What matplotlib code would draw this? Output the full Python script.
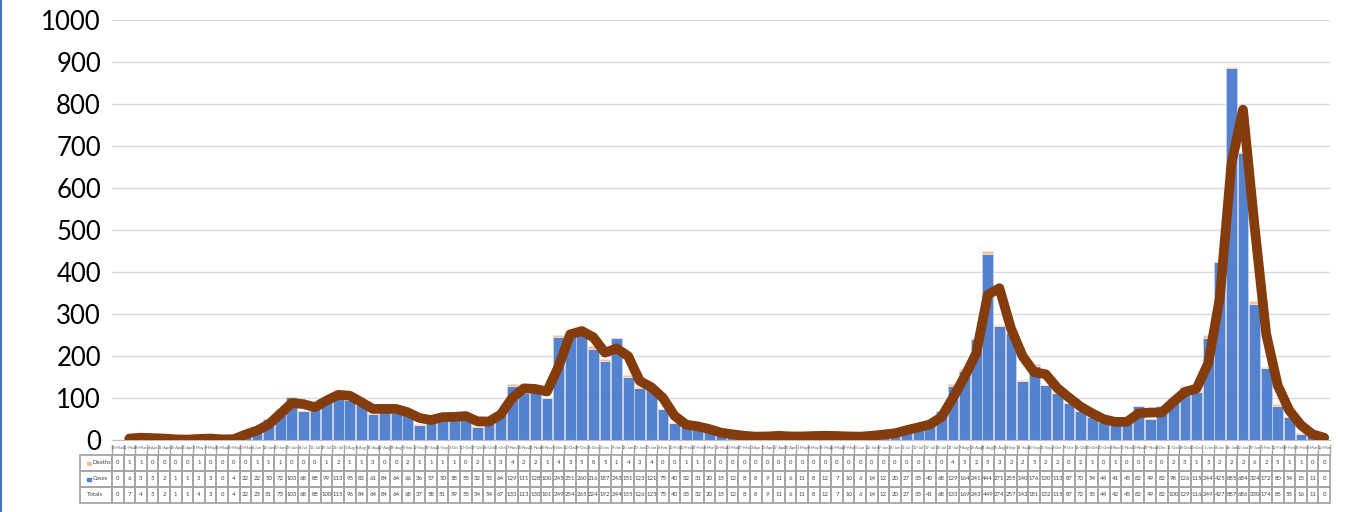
import numpy as np
import pandas as pd
import matplotlib
matplotlib.use("Agg")
import matplotlib.pyplot as plt
from matplotlib.patches import Rectangle
from matplotlib.lines import Line2D

plt.rcParams['font.family'] = ['Lato', 'DejaVu Sans']

# weekly data, Mar 2020 - Mar 2022
weeks = pd.date_range("2020-03-14", periods=105, freq="7D")
week_labels = [f"{d.day}-{d:%b}" for d in weeks]

deaths = [0, 1, 1, 0, 0, 0, 0, 1, 0, 0, 0, 0, 1, 1, 1, 0, 0, 0, 1, 2,
          1, 1, 3, 0, 0, 2, 1, 1, 1, 1, 0, 2, 1, 3, 4, 2, 2, 1, 4, 3,
          5, 8, 5, 1, 4, 3, 4, 0, 0, 1, 1, 0, 0, 0, 0, 0, 0, 0, 0, 0,
          0, 0, 0, 0, 0, 0, 0, 0, 0, 0, 1, 0, 4, 5, 2, 5, 3, 2, 2, 5,
          2, 2, 0, 2, 1, 0, 1, 0, 0, 0, 0, 2, 3, 1, 5, 2, 2, 2, 6, 2,
          5, 1, 1, 0, 0]
cases = [0, 6, 3, 5, 2, 1, 1, 3, 3, 0, 4, 22, 22, 50, 72, 103, 68, 88, 99, 113,
         95, 83, 61, 84, 64, 66, 36, 57, 50, 58, 55, 32, 53, 64, 129, 111, 128, 100, 245, 251,
         260, 216, 187, 243, 151, 123, 121, 75, 40, 32, 31, 20, 15, 12, 8, 8, 9, 11, 6, 11,
         8, 12, 7, 10, 6, 14, 12, 20, 27, 33, 40, 68, 129, 164, 241, 444, 271, 255, 140, 176,
         130, 113, 87, 70, 54, 44, 41, 45, 82, 49, 82, 98, 126, 115, 244, 425, 885, 684, 324, 172,
         80, 54, 15, 11, 0]
totals = [0, 7, 4, 5, 2, 1, 1, 4, 3, 0, 4, 22, 23, 51, 73, 103, 68, 88, 100, 115,
          96, 84, 64, 84, 64, 68, 37, 58, 51, 59, 55, 34, 54, 67, 133, 113, 130, 101, 249, 254,
          265, 224, 192, 244, 155, 126, 125, 75, 40, 33, 32, 20, 15, 12, 8, 8, 9, 11, 6, 11,
          8, 12, 7, 10, 6, 14, 12, 20, 27, 33, 41, 68, 133, 169, 243, 449, 274, 257, 142, 181,
          132, 115, 87, 72, 55, 44, 42, 45, 82, 49, 82, 100, 129, 116, 249, 427, 887, 686, 330, 174,
          85, 55, 16, 11, 0]

# Excel style 2-period moving average trendline
trend = pd.Series(totals, dtype=float).rolling(2).mean()

c_cases = '#5582CE'
c_deaths = '#F6C09B'
c_trend = '#843C0C'

W, H = 1361, 512
fig = plt.figure(figsize=(W / 100, H / 100), dpi=100)
x0, x1 = 112, 1330
ax = fig.add_axes([x0 / W, 72 / H, (x1 - x0) / W, 420 / H])

x = np.arange(len(cases))
ax.bar(x, cases, width=0.92, color=c_cases, edgecolor='#C9D6EE', linewidth=0.5, zorder=2)
ax.bar(x, deaths, bottom=cases, width=0.92, color=c_deaths, edgecolor='#FBE3D3',
       linewidth=0.5, zorder=2)
ax.plot(x, trend, color=c_trend, lw=7, solid_capstyle='round', solid_joinstyle='round', zorder=3)

ax.set_xlim(-0.5, len(cases) - 0.5)
ax.set_ylim(0, 1000)
ax.set_yticks(range(0, 1001, 100))
ax.tick_params(axis='y', length=0, labelsize=18.5, pad=8)
ax.set_xticks([])
ax.grid(axis='y', color='#D9D9D9', lw=1, zorder=0)
for s in ['top', 'right', 'left']:
    ax.spines[s].set_visible(False)
ax.spines['bottom'].set_color('#BFBFBF')

# data table underneath
tb = fig.add_axes([x0 / W, 9 / H, (x1 - x0) / W, 63 / H])
tb.set_xlim(-0.5, len(cases) - 0.5)
tb.set_ylim(0, 63)
tb.axis('off')

rows = [('Totals', totals, None), ('Cases', cases, c_cases), ('Deaths', deaths, c_deaths)]
grid_c = '#A6A6A6'
hdr_left = -0.5 - 32 / ((x1 - x0) / len(cases))
for r, (name, vals, col) in enumerate(rows):
    y = r * 16
    for i, v in enumerate(vals):
        tb.add_patch(Rectangle((i - 0.5, y), 1, 16, fill=False, ec=grid_c, lw=1.3, clip_on=False))
        tb.text(i, y + 8, str(v), ha='center', va='center', fontsize=4.3, color='#404040')
    tb.add_patch(Rectangle((hdr_left, y), -0.5 - hdr_left, 16, fill=False, ec=grid_c, lw=1.3,
                           clip_on=False))
    tx = hdr_left + 0.6
    if col is not None:
        tb.add_patch(Rectangle((tx, y + 6.5), 0.35, 3, color=col, clip_on=False))
        tx += 0.5
    tb.text(tx, y + 8, name, ha='left', va='center', fontsize=4.3, color='#404040', clip_on=False)

# week labels, tiny so they crowd together like the original
for i, lab in enumerate(week_labels):
    tb.plot([i - 0.5, i - 0.5], [48, 58], color=grid_c, lw=1.0, clip_on=False)
    tb.text(i, 55, lab, ha='center', va='center', fontsize=2.9, color='#595959')
tb.plot([len(cases) - 0.5] * 2, [48, 58], color=grid_c, lw=1.0, clip_on=False)

fig.add_artist(Line2D([0.001, 0.001], [0, 1], color='#4472C4', lw=1.5))

fig.savefig('out.png', dpi=100)
